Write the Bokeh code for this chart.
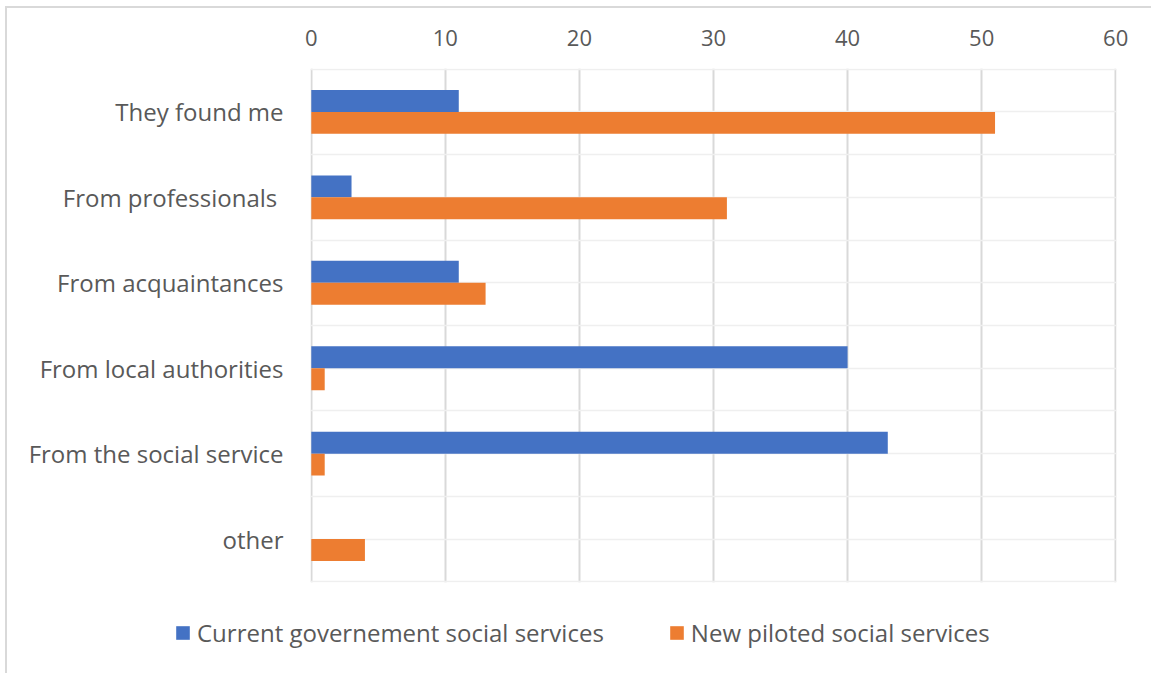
from bokeh.plotting import figure
from bokeh.layouts import column
from bokeh.models import (Range1d, FixedTicker, Legend, LegendItem, ColumnDataSource)
from bokeh.transform import dodge
from bokeh.embed import file_html
from bokeh.resources import INLINE

categories = ["They found me", "From professionals ", "From acquaintances",
              "From local authorities", "From the social service", "other"]
current = [11, 3, 11, 40, 43, 0]
new_piloted = [51, 31, 13, 1, 1, 4]
x_ticks = [0, 10, 20, 30, 40, 50, 60]
series_names = ["Current governement social services", "New piloted social services"]

BLUE = "#4472C4"
ORANGE = "#ED7D31"
TXT = "#595959"
FONT = "Open Sans"

n = len(categories)
pos = list(range(n))
src = ColumnDataSource(dict(pos=pos, cur=current, new=new_piloted))

W = 1144
H_MAIN, H_LEG = 592, 73
p = figure(width=W, height=H_MAIN, output_backend="svg", toolbar_location=None,
           x_range=Range1d(-0.06, 60.06),
           y_range=Range1d(n - 0.5 + 0.008, -0.5 - 0.008),
           x_axis_location="above",
           min_border_left=303, min_border_right=35,
           min_border_top=60, min_border_bottom=18)
p.frame_align = False
p.outline_line_color = None
p.background_fill_color = "white"
p.border_fill_color = "white"

bh = 0.257
r1 = p.hbar(y=dodge("pos", -0.1285), right="cur", left=0, height=bh,
            source=src, fill_color=BLUE, line_color=None)
r2 = p.hbar(y=dodge("pos", 0.1285), right="new", left=0, height=bh,
            source=src, fill_color=ORANGE, line_color=None)

# axes
p.xaxis.ticker = FixedTicker(ticks=x_ticks)
p.xaxis.axis_line_color = None
p.xaxis.major_tick_line_color = None
p.xaxis.minor_tick_line_color = None
p.xaxis.major_label_text_font = FONT
p.xaxis.major_label_text_font_size = "22px"
p.xaxis.major_label_text_color = TXT
p.xaxis.major_label_standoff = 17

yticker = FixedTicker(ticks=pos, minor_ticks=[i - 0.5 for i in range(n + 1)])
p.yaxis.ticker = yticker
p.yaxis.major_label_overrides = {i: c for i, c in zip(pos, categories)}
p.yaxis.axis_line_color = None
p.yaxis.major_tick_line_color = None
p.yaxis.minor_tick_line_color = None
p.yaxis.major_label_text_font = FONT
p.yaxis.major_label_text_font_size = "24px"
p.yaxis.major_label_text_color = TXT
p.yaxis.major_label_standoff = 21

# grids
p.xgrid.grid_line_color = "#d9d9d9"
p.xgrid.grid_line_width = 2
p.ygrid.ticker = yticker
p.ygrid.grid_line_color = "#efefef"
p.ygrid.grid_line_width = 1.5
p.ygrid.minor_grid_line_color = "#efefef"
p.ygrid.minor_grid_line_width = 1.5

# legend panel (own figure, so the legend is not clipped by the main frame)
leg = figure(width=W, height=H_LEG, output_backend="svg", toolbar_location=None,
             x_range=Range1d(0, 1), y_range=Range1d(0, 1),
             x_axis_location=None, y_axis_location=None,
             min_border=0, min_border_left=0, min_border_right=0,
             min_border_top=0, min_border_bottom=0)
leg.frame_align = False
leg.outline_line_color = None
leg.xgrid.visible = False
leg.ygrid.visible = False
# zero-length bars: only used as legend swatches
lr1 = leg.hbar(y=[0], left=[0], right=[0], height=0, fill_color=BLUE, line_color=None)
lr2 = leg.hbar(y=[0], left=[0], right=[0], height=0, fill_color=ORANGE, line_color=None)
legend = Legend(items=[LegendItem(label=series_names[0], renderers=[lr1]),
                       LegendItem(label=series_names[1], renderers=[lr2])],
                orientation="horizontal", location=(167, 24),
                padding=0, margin=0, border_line_color=None, background_fill_alpha=0,
                glyph_width=17, glyph_height=17, label_standoff=6, spacing=64,
                label_height=26,
                label_text_font=FONT, label_text_font_size="24px", label_text_color=TXT)
leg.add_layout(legend, "center")

layout = column(p, leg, spacing=0,
                styles={"margin-left": "5px", "margin-top": "6px",
                        "border-left": "2px solid #d9d9d9",
                        "border-top": "2px solid #d9d9d9"})

open("out.html", "w").write(file_html(layout, INLINE))
